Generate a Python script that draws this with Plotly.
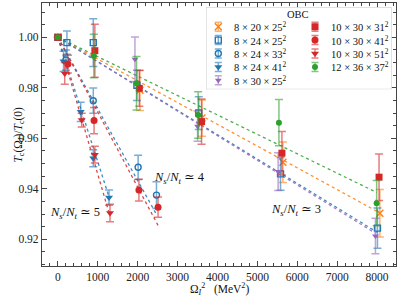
import plotly.graph_objects as go

# ---------------- data ----------------
labels = ["8 × 20 × 25<sup>2</sup>", "8 × 24 × 25<sup>2</sup>", "8 × 24 × 33<sup>2</sup>",
          "8 × 24 × 41<sup>2</sup>", "8 × 30 × 25<sup>2</sup>", "10 × 30 × 31<sup>2</sup>",
          "10 × 30 × 41<sup>2</sup>", "10 × 30 × 51<sup>2</sup>", "12 × 36 × 37<sup>2</sup>"]

x_8x20x25 = [0, 2055, 3610, 5640, 8070]
y_8x20x25 = [1.0, 0.979, 0.968, 0.9505, 0.9303]
e_8x20x25 = [None, 0.008, 0.0072, 0.008, 0.0094]

x_8x24x25 = [0, 225, 885, 1980, 3530, 5580, 8010]
y_8x24x25 = [1.0, 0.9979, 0.9979, 0.981, 0.970, 0.9459, 0.9244]
e_8x24x25 = [None, 0.0046, 0.0095, 0.006, 0.0065, 0.0065, 0.008]

x_8x24x33 = [0, 200, 885, 2010, 2470]
y_8x24x33 = [1.0, 0.991, 0.9749, 0.9485, 0.9375]
e_8x24x33 = [None, 0.004, 0.005, 0.0048, 0.0053]

x_8x24x41 = [0, 140, 570, 885, 1280]
y_8x24x41 = [1.0, 0.9905, 0.9705, 0.9521, 0.9365]
e_8x24x41 = [None, 0.004, 0.0038, 0.0034, 0.003]

x_8x30x25 = [0, 1930, 3500, 5520, 7960]
y_8x30x25 = [1.0, 0.9913, 0.9648, 0.9468, 0.9213]
e_8x30x25 = [None, 0.0088, 0.006, 0.0075, 0.007]

x_10x30x31 = [0, 925, 2040, 3600, 5615, 8050]
y_10x30x31 = [1.0, 0.9947, 0.9798, 0.9666, 0.9541, 0.9446]
e_10x30x31 = [None, 0.0105, 0.0071, 0.009, 0.0086, 0.0092]

x_10x30x41 = [0, 250, 905, 2030, 2510]
y_10x30x41 = [1.0, 0.9894, 0.967, 0.9395, 0.9327]
e_10x30x41 = [None, 0.0035, 0.0052, 0.0043, 0.004]

x_10x30x51 = [0, 170, 595, 925, 1305]
y_10x30x51 = [1.0, 0.9857, 0.9672, 0.9535, 0.9304]
e_10x30x51 = [None, 0.0043, 0.0027, 0.0033, 0.0035]

x_12x36x37 = [0, 900, 1970, 3515, 5540, 7990]
y_12x36x37 = [1.0, 0.9926, 0.9818, 0.9692, 0.9662, 0.9343]
e_12x36x37 = [None, 0.0086, 0.0106, 0.0092, 0.0092, 0.009]

# linear fits  Tc(Ω)/Tc(0) = 1 - slope * Ω²  (None = no fit drawn)
fit_slope = [8.62e-6, 9.65e-6, 2.84e-5, 4.94e-5, 9.75e-6, None, 2.97e-5, 5.43e-5, 7.69e-6]

group_labels = ["<i>N</i><sub><i>s</i></sub>/<i>N</i><sub><i>t</i></sub> ≃ 5",
                "<i>N</i><sub><i>s</i></sub>/<i>N</i><sub><i>t</i></sub> ≃ 4",
                "<i>N</i><sub><i>s</i></sub>/<i>N</i><sub><i>t</i></sub> ≃ 3"]
group_x = [426, 3058, 5965]
group_y = [0.9304, 0.9443, 0.9316]

x_ticks = [0, 1000, 2000, 3000, 4000, 5000, 6000, 7000, 8000]
y_ticks = [0.92, 0.94, 0.96, 0.98, 1.00]

# ---------------- styles ----------------
xs = [x_8x20x25, x_8x24x25, x_8x24x33, x_8x24x41, x_8x30x25, x_10x30x31, x_10x30x41, x_10x30x51, x_12x36x37]
ys = [y_8x20x25, y_8x24x25, y_8x24x33, y_8x24x41, y_8x30x25, y_10x30x31, y_10x30x41, y_10x30x51, y_12x36x37]
es = [e_8x20x25, e_8x24x25, e_8x24x33, e_8x24x41, e_8x30x25, e_10x30x31, e_10x30x41, e_10x30x51, e_12x36x37]

ORANGE = (255, 127, 14)
BLUE = (31, 119, 180)
PURPLE = (148, 103, 189)
RED = (214, 39, 40)
GREEN = (44, 160, 44)
colors = [ORANGE, BLUE, BLUE, BLUE, PURPLE, RED, RED, RED, GREEN]
symbols = ["x-thin-open", "square-open", "circle-open", "triangle-down", "triangle-down",
           "square", "circle", "triangle-down", "circle"]
sizes = [7, 6, 6, 7, 6, 7, 7, 7, 6]


def rgba(c, a):
    return "rgba(%d,%d,%d,%.2f)" % (c[0], c[1], c[2], a)


FONT = "Liberation Serif, DejaVu Serif, serif"

fig = go.Figure()

# fit lines first (underneath)
for i in range(len(xs)):
    if fit_slope[i] is None:
        continue
    x_end = max(xs[i])
    fig.add_trace(go.Scatter(
        x=[0, x_end], y=[1.0, 1.0 - fit_slope[i] * x_end], mode="lines",
        line=dict(color=rgba(colors[i], 0.85), width=1.3, dash="dot"),
        showlegend=False, hoverinfo="skip"))

# data points with error bars
for i in range(len(xs)):
    open_sym = symbols[i].endswith("open")
    fig.add_trace(go.Scatter(
        x=xs[i], y=ys[i], mode="markers", name=labels[i], showlegend=False,
        marker=dict(symbol=symbols[i], size=sizes[i], color=rgba(colors[i], 1),
                    line=dict(color=rgba(colors[i], 1), width=1.4 if open_sym else 0)),
        error_y=dict(type="data", array=es[i], visible=True, color=rgba(colors[i], 0.6),
                     thickness=1.5, width=4)))

# ---------------- manual legend (two columns) ----------------
n_col1 = 5
leg_x0, leg_x1, leg_y0, leg_y1 = 206, 391.7, 7.3, 89.3  # legend box in pixel-like units
row_h = 13.4
for i in range(len(labels)):
    col = 0 if i < n_col1 else 1
    row = i if i < n_col1 else i - n_col1
    gx = 218.3 + col * 96.7
    gy = 26.7 + row * row_h
    open_sym = symbols[i].endswith("open")
    fig.add_trace(go.Scatter(
        x=[gx], y=[gy], mode="markers", xaxis="x2", yaxis="y2", showlegend=False,
        marker=dict(symbol=symbols[i], size=sizes[i], color=rgba(colors[i], 1),
                    line=dict(color=rgba(colors[i], 1), width=1.4 if open_sym else 0)),
        error_y=dict(type="constant", value=4.5, visible=True, color=rgba(colors[i], 0.6),
                     thickness=1.5, width=3.5), hoverinfo="skip"))
    fig.add_annotation(x=gx + 14, y=gy, xref="x2", yref="y2", text=labels[i],
                       showarrow=False, xanchor="left", yanchor="middle",
                       font=dict(family=FONT, size=10.5, color="#111"))
fig.add_annotation(x=298, y=14.7, xref="x2", yref="y2", text="OBC", showarrow=False,
                   font=dict(family=FONT, size=10.5, color="#111"))
fig.add_shape(type="rect", xref="x2", yref="y2", x0=leg_x0, x1=leg_x1, y0=leg_y0, y1=leg_y1,
              line=dict(color="#cccccc", width=1), fillcolor="rgba(255,255,255,0.8)", layer="below")

# group labels
for t, gx, gy in zip(group_labels, group_x, group_y):
    fig.add_annotation(x=gx, y=gy, text=t, showarrow=False,
                       font=dict(family=FONT, size=12.5, color="#111"))

# axis titles
fig.add_annotation(x=-0.093, y=0.5, xref="paper", yref="paper", textangle=-90,
                   text="<i>T</i><sub>c</sub>(Ω<sub><i>I</i></sub>)/<i>T</i><sub>c</sub>(0)",
                   showarrow=False, font=dict(family=FONT, size=11.5, color="#111"))
fig.add_annotation(x=0.5, y=-0.087, xref="paper", yref="paper",
                   text="Ω<sub><i>I</i></sub><sup>2</sup>   (MeV<sup>2</sup>)",
                   showarrow=False, yanchor="middle", font=dict(family=FONT, size=11.5, color="#111"))

axis_common = dict(showgrid=False, zeroline=False, showline=True, linecolor="#444", linewidth=1.2,
                   mirror="ticks", ticks="inside", ticklen=5, tickwidth=1, tickcolor="#444",
                   tickfont=dict(family=FONT, size=11.5, color="#222"))

fig.update_layout(
    width=399, height=299, margin=dict(l=42, r=3, t=3, b=33),
    plot_bgcolor="white", paper_bgcolor="white", showlegend=False,
    xaxis=dict(range=[-400, 8475], tickvals=x_ticks,
               minor=dict(ticks="inside", ticklen=2.5, dtick=200, tick0=0, tickcolor="#444"),
               **axis_common),
    yaxis=dict(range=[0.9094, 1.0136], tickvals=y_ticks, tickformat=".2f",
               minor=dict(ticks="inside", ticklen=2.5, dtick=0.005, tick0=0.9, tickcolor="#444"),
               **axis_common),
    xaxis2=dict(domain=[(leg_x0 - 42) / 354, (leg_x1 - 42) / 354], range=[leg_x0, leg_x1],
                visible=False, anchor="y2", fixedrange=True),
    yaxis2=dict(domain=[(266 - leg_y1) / 263, (266 - leg_y0) / 263], range=[leg_y1, leg_y0],
                visible=False, anchor="x2", fixedrange=True),
)

fig.write_html("out.html", config={"displayModeBar": False},
               post_script="document.body.style.margin='0';document.body.style.padding='0';")
